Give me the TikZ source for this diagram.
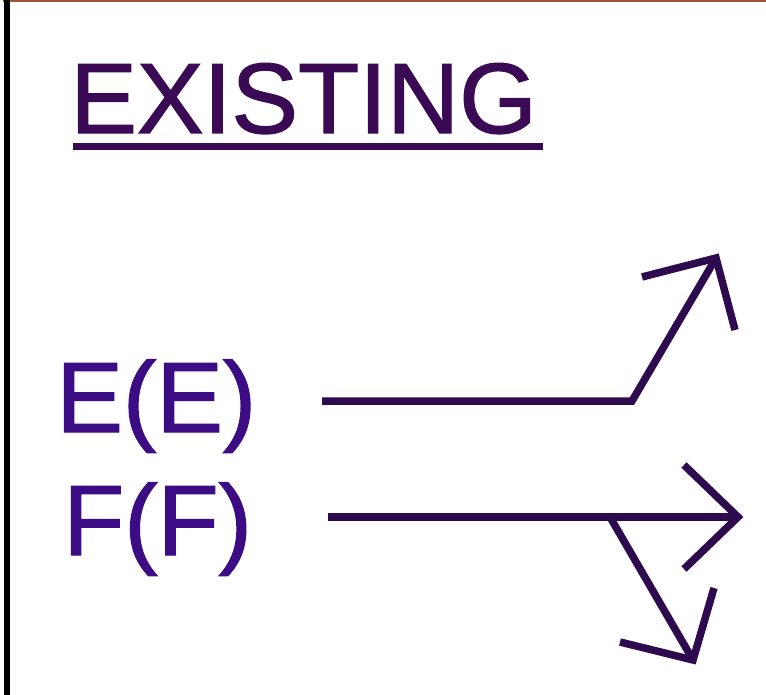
\documentclass[tikz,border=0pt]{standalone}
\usepackage{fontspec}
\setmainfont{Liberation Sans}
\newfontfamily\heavy{Liberation Sans}[FakeBold=1.3]
\definecolor{headcol}{HTML}{3A0A55}
\definecolor{labcol}{HTML}{3C0C85}
\definecolor{linecol}{HTML}{2E0A4E}
\definecolor{topcol}{HTML}{A0503C}
\tikzset{
  lab/.style={font=\heavy\fontsize{100}{100}\selectfont, text=labcol, inner sep=0pt, anchor=base west},
  head/.style={font=\heavy\fontsize{100}{100}\selectfont, text=headcol, inner sep=0pt, anchor=base west},
  wire/.style={draw=linecol, line width=7.5pt, line cap=butt, line join=miter},
}
\begin{document}
\begin{tikzpicture}[x=1pt,y=-1pt]
\useasboundingbox (0,0) rectangle (766,695);
\fill[white] (0,0) rectangle (766,695);
% frame
\draw[topcol, line width=2.5pt] (3,1) -- (766,1);
\draw[black, line width=6pt] (7,0) -- (7,695);
% title
\node[head] (title) at (70,133) {EXISTING};
\draw[headcol, line width=7pt] (73,146.5) -- (543,146.5);
% labels
\node[lab] (E) at (56,432) {E(E)};
\node[lab] (F) at (63,555) {F(F)};
% E arrow
\coordinate (e0) at (322,401);
\coordinate (e1) at (632,401);
\coordinate (etip) at (716,258);
\coordinate (ea1) at (642,277);
\coordinate (ea2) at (735,330);
\draw[wire] (e0) -- (e1) -- (etip);
\draw[wire] (ea1) -- (etip) -- (ea2);
% F arrow
\coordinate (f0) at (328,517);
\coordinate (ftip) at (738,517);
\coordinate (fa1) at (684,465);
\coordinate (fa2) at (684,569);
\draw[wire] (f0) -- (ftip);
\draw[wire] (fa1) -- (ftip) -- (fa2);
% branch down
\coordinate (b0) at (610,517);
\coordinate (btip) at (693,660);
\coordinate (ba1) at (620,642);
\coordinate (ba2) at (714,588);
\draw[wire] (b0) -- (btip);
\draw[wire] (ba1) -- (btip) -- (ba2);
\end{tikzpicture}
\end{document}
